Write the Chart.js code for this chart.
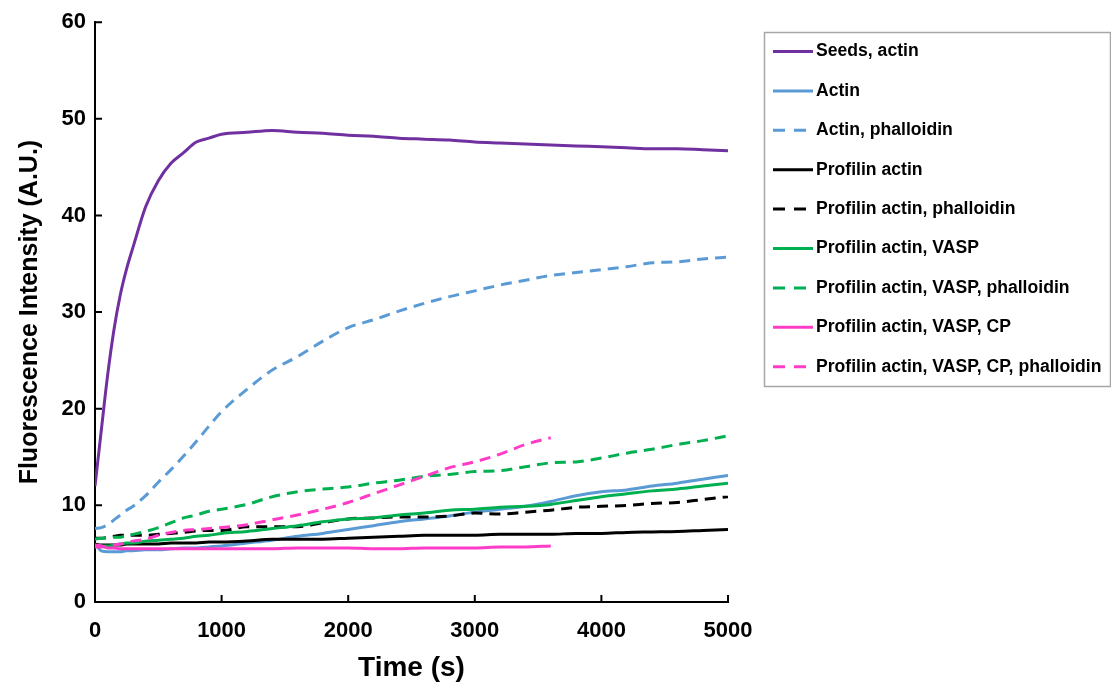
<!DOCTYPE html>
<html>
<head>
<meta charset="utf-8">
<title>Fluorescence intensity over time</title>
<script src="https://cdn.jsdelivr.net/npm/chart.js"></script>
<style>
  html, body { margin: 0; padding: 0; background: #fff; }
  #wrap { width: 1111px; height: 687px; position: relative; }
</style>
</head>
<body>
<div id="wrap"><canvas id="myChart" width="1111" height="687"></canvas></div>
<script>
var times = [0, 50, 100, 150, 200, 250, 300, 400, 500, 600, 700, 800, 900, 1000,
  1200, 1400, 1600, 1800, 2000, 2200, 2400, 2600, 2800, 3000, 3200, 3400, 3600,
  3800, 4000, 4200, 4400, 4600, 4800, 5000];

var seedsActin = [12.0, 17.8, 23.5, 28.2, 31.8, 34.5, 36.7, 40.9, 43.6, 45.4, 46.5, 47.6, 48.0, 48.4,
  48.6, 48.8, 48.6, 48.5, 48.3, 48.2, 48.0, 47.9, 47.8, 47.6, 47.5, 47.4, 47.3,
  47.2, 47.1, 47.0, 46.9, 46.9, 46.8, 46.7];
var actin = [6.0, 5.3, 5.2, 5.2, 5.2, 5.3, 5.3, 5.4, 5.4, 5.5, 5.6, 5.6, 5.7, 5.8,
  6.1, 6.4, 6.8, 7.1, 7.5, 7.9, 8.3, 8.6, 8.9, 9.3, 9.6, 9.9, 10.4,
  11.0, 11.4, 11.6, 12.0, 12.3, 12.7, 13.1];
var actinPhall = [7.6, 7.7, 8.0, 8.5, 9.0, 9.5, 9.9, 11.0, 12.4, 13.7, 15.1, 16.6, 18.2, 19.7,
  22.0, 24.0, 25.4, 27.0, 28.4, 29.2, 30.1, 30.9, 31.6, 32.2, 32.8, 33.3, 33.8,
  34.1, 34.4, 34.7, 35.1, 35.2, 35.5, 35.7];
var profActin = [6.0, 5.9, 5.9, 5.9, 5.9, 6.0, 6.0, 6.0, 6.0, 6.1, 6.1, 6.1, 6.2, 6.2,
  6.3, 6.5, 6.5, 6.5, 6.6, 6.7, 6.8, 6.9, 6.9, 6.9, 7.0, 7.0, 7.0,
  7.1, 7.1, 7.2, 7.25, 7.3, 7.4, 7.5];
var profActinPhall = [6.6, 6.6, 6.7, 6.8, 6.9, 6.9, 6.9, 6.9, 7.0, 7.1, 7.2, 7.35, 7.4, 7.4,
  7.8, 7.8, 7.8, 8.2, 8.6, 8.7, 8.8, 8.8, 8.9, 9.2, 9.1, 9.3, 9.5,
  9.8, 9.9, 10.0, 10.2, 10.3, 10.6, 10.9];
var profVasp = [5.9, 5.8, 5.8, 5.9, 6.0, 6.1, 6.1, 6.3, 6.4, 6.5, 6.6, 6.8, 6.9, 7.1,
  7.3, 7.6, 7.9, 8.3, 8.6, 8.7, 9.0, 9.2, 9.5, 9.6, 9.8, 9.9, 10.1,
  10.5, 10.9, 11.2, 11.5, 11.7, 12.0, 12.3];
var profVaspPhall = [6.5, 6.6, 6.6, 6.7, 6.7, 6.9, 7.0, 7.3, 7.7, 8.2, 8.7, 9.0, 9.4, 9.6,
  10.1, 10.9, 11.4, 11.7, 11.9, 12.3, 12.6, 13.0, 13.2, 13.5, 13.6, 14.0, 14.4,
  14.5, 14.9, 15.4, 15.8, 16.3, 16.7, 17.2];
var profVaspCp = [5.9, 5.8, 5.6, 5.6, 5.5, 5.5, 5.5, 5.5, 5.5, 5.5, 5.5, 5.5, 5.5, 5.5,
  5.5, 5.5, 5.6, 5.6, 5.6, 5.5, 5.5, 5.6, 5.6, 5.6, 5.7, 5.7, 5.8,
  null, null, null, null, null, null, null];
var profVaspCpPhall = [5.7, 5.7, 5.8, 5.9, 6.0, 6.1, 6.3, 6.5, 6.9, 7.2, 7.4, 7.5, 7.6, 7.7,
  8.0, 8.5, 9.0, 9.6, 10.3, 11.2, 12.1, 13.0, 13.9, 14.5, 15.3, 16.3, 17.0,
  null, null, null, null, null, null, null];

var seriesNames = ['Seeds, actin', 'Actin', 'Actin, phalloidin', 'Profilin actin',
  'Profilin actin, phalloidin', 'Profilin actin, VASP', 'Profilin actin, VASP, phalloidin',
  'Profilin actin, VASP, CP', 'Profilin actin, VASP, CP, phalloidin'];
var seriesValues = [seedsActin, actin, actinPhall, profActin, profActinPhall,
  profVasp, profVaspPhall, profVaspCp, profVaspCpPhall];
var seriesColors = ['#7030A0', '#5B9BD5', '#5B9BD5', '#000000', '#000000',
  '#00B050', '#00B050', '#FF3CC8', '#FF3CC8'];
var seriesDashed = [false, false, true, false, true, false, true, false, true];

var xTicks = [0, 1000, 2000, 3000, 4000, 5000];
var yTicks = [0, 10, 20, 30, 40, 50, 60];

var FONT = "'Liberation Sans', Arial, sans-serif";

function toPoints(vals) {
  var pts = [];
  vals.forEach(function(v, i) {
    if (v !== null) pts.push({x: times[i], y: v});
  });
  return pts;
}

var datasets = seriesNames.map(function(name, i) {
  return {
    label: name,
    data: toPoints(seriesValues[i]),
    borderColor: seriesColors[i],
    backgroundColor: seriesColors[i],
    borderWidth: 3,
    borderDash: seriesDashed[i] ? [11, 7] : [],
    pointRadius: 0,
    fill: false,
    cubicInterpolationMode: 'monotone',
    order: seriesNames.length - i
  };
});

// ticks pointing into the plot, like the original
var insideTicks = {
  id: 'insideTicks',
  afterDraw: function(chart) {
    var ctx = chart.ctx, a = chart.chartArea;
    var xs = chart.scales.x, ys = chart.scales.y;
    ctx.save();
    ctx.strokeStyle = '#000';
    ctx.lineWidth = 2;
    ctx.beginPath();
    xs.ticks.forEach(function(t) {
      var px = xs.getPixelForValue(t.value);
      ctx.moveTo(px, a.bottom);
      ctx.lineTo(px, a.bottom - 7);
    });
    ys.ticks.forEach(function(t) {
      var py = ys.getPixelForValue(t.value);
      ctx.moveTo(a.left, py);
      ctx.lineTo(a.left + 7, py);
    });
    ctx.stroke();
    ctx.restore();
  }
};

// boxed legend on the right
var boxLegend = {
  id: 'boxLegend',
  afterDraw: function(chart) {
    var ctx = chart.ctx;
    var bx = 764.5, by = 32.5, bw = 346, bh = 354;
    ctx.save();
    ctx.strokeStyle = '#a6a6a6';
    ctx.lineWidth = 1.5;
    ctx.strokeRect(bx, by, bw, bh);
    ctx.font = 'bold 17.6px ' + FONT;
    ctx.textBaseline = 'middle';
    ctx.fillStyle = '#000';
    chart.data.datasets.forEach(function(ds, i) {
      var y = 51.5 + i * 39.4;
      ctx.beginPath();
      ctx.strokeStyle = ds.borderColor;
      ctx.lineWidth = 3;
      ctx.setLineDash(ds.borderDash.length ? [12, 9] : []);
      ctx.moveTo(773, y);
      ctx.lineTo(813, y);
      ctx.stroke();
      ctx.setLineDash([]);
      ctx.fillText(ds.label, 816, y);
    });
    ctx.restore();
  }
};

var ctx = document.getElementById('myChart').getContext('2d');
new Chart(ctx, {
  type: 'line',
  data: { datasets: datasets },
  options: {
    responsive: false,
    animation: false,
    layout: { padding: { top: 20, right: 383, left: 0, bottom: 0 } },
    plugins: { legend: { display: false }, tooltip: { enabled: false } },
    scales: {
      x: {
        type: 'linear',
        min: 0,
        max: 5000,
        afterFit: function(s) { s.height = 85; },
        afterBuildTicks: function(s) { s.ticks = xTicks.map(function(v) { return {value: v}; }); },
        grid: { display: false, drawTicks: false },
        border: { display: true, color: '#000', width: 2 },
        ticks: {
          color: '#000',
          padding: 16,
          font: { family: FONT, size: 22, weight: 'bold' },
          callback: function(v) { return String(v); }
        },
        title: {
          display: true,
          text: 'Time (s)',
          color: '#000',
          padding: { bottom: 2 },
          font: { family: FONT, size: 28, weight: 'bold' }
        }
      },
      y: {
        min: 0,
        max: 60,
        afterFit: function(s) { s.width = 95; },
        afterBuildTicks: function(s) { s.ticks = yTicks.map(function(v) { return {value: v}; }); },
        grid: { display: false, drawTicks: false },
        border: { display: true, color: '#000', width: 2 },
        ticks: {
          color: '#000',
          padding: 9,
          font: { family: FONT, size: 22, weight: 'bold' },
          callback: function(v) { return String(v); }
        },
        title: {
          display: true,
          text: 'Fluorescence Intensity (A.U.)',
          color: '#000',
          padding: { top: 15 },
          font: { family: FONT, size: 25, weight: 'bold' }
        }
      }
    }
  },
  plugins: [insideTicks, boxLegend]
});
</script>
</body>
</html>
